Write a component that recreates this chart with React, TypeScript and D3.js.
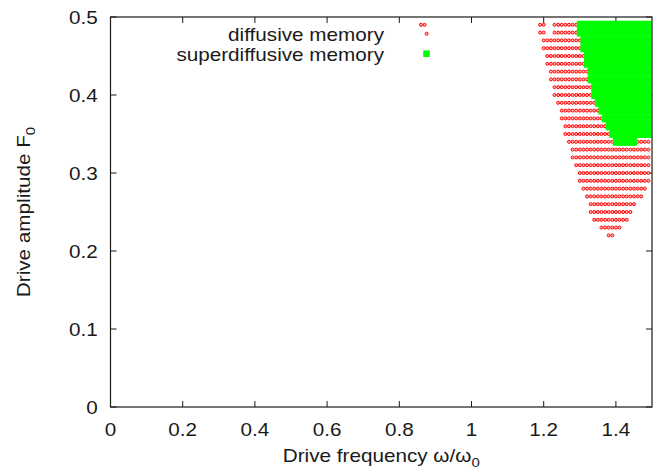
import React from 'react';
import * as d3 from 'd3';

// ---- data ----
const xTicks = [0, 0.2, 0.4, 0.6, 0.8, 1, 1.2, 1.4];
const xTickLabels = ['0', '0.2', '0.4', '0.6', '0.8', '1', '1.2', '1.4'];
const yTicks = [0, 0.1, 0.2, 0.3, 0.4, 0.5];
const yTickLabels = ['0', '0.1', '0.2', '0.3', '0.4', '0.5'];
const legendLabels = ['diffusive memory', 'superdiffusive memory'];

// grid scan rows: [F0, omega start, omega end] (step 0.01 in omega)
const diffusiveRows: [number, number, number][] = [
  [0.49, 0.86, 0.87],
  [0.49, 1.19, 1.2],
  [0.49, 1.23, 1.49],
  [0.48, 1.19, 1.2],
  [0.48, 1.23, 1.49],
  [0.47, 1.2, 1.49],
  [0.46, 1.2, 1.49],
  [0.45, 1.21, 1.49],
  [0.44, 1.21, 1.49],
  [0.43, 1.22, 1.49],
  [0.42, 1.22, 1.49],
  [0.41, 1.23, 1.49],
  [0.4, 1.23, 1.49],
  [0.39, 1.24, 1.49],
  [0.38, 1.25, 1.49],
  [0.37, 1.25, 1.49],
  [0.36, 1.26, 1.49],
  [0.35, 1.26, 1.49],
  [0.34, 1.27, 1.49],
  [0.33, 1.28, 1.49],
  [0.32, 1.28, 1.49],
  [0.31, 1.29, 1.49],
  [0.3, 1.3, 1.49],
  [0.29, 1.3, 1.49],
  [0.28, 1.31, 1.48],
  [0.27, 1.32, 1.47],
  [0.26, 1.33, 1.45],
  [0.25, 1.33, 1.44],
  [0.24, 1.34, 1.43],
  [0.23, 1.36, 1.41],
  [0.22, 1.38, 1.39],
];

const superdiffusiveRows: [number, number, number][] = [
  [0.49, 1.3, 1.49],
  [0.48, 1.3, 1.49],
  [0.47, 1.31, 1.49],
  [0.46, 1.31, 1.49],
  [0.45, 1.32, 1.49],
  [0.44, 1.32, 1.49],
  [0.43, 1.33, 1.49],
  [0.42, 1.33, 1.49],
  [0.41, 1.34, 1.49],
  [0.4, 1.34, 1.49],
  [0.39, 1.35, 1.49],
  [0.38, 1.36, 1.49],
  [0.37, 1.37, 1.49],
  [0.36, 1.38, 1.49],
  [0.35, 1.39, 1.49],
  [0.34, 1.4, 1.45],
];

// ---- layout ----
const W = 667;
const H = 472;
const LEFT = 110.5;
const RIGHT = 652;
const TOP = 17;
const BOTTOM = 407;
const FONT = '"Liberation Sans", Arial, Helvetica, sans-serif';
const INK = '#1a1a1a';
const SX = 1.15;

function cells(rows: [number, number, number][]) {
  const pts: { w: number; f: number; k: string }[] = [];
  rows.forEach(([f, a, b], ri) => {
    for (let i = Math.round(a * 100); i <= Math.round(b * 100); i++) {
      pts.push({ w: i / 100, f, k: `${ri}-${i}` });
    }
  });
  return pts;
}

function T({ x, y, anchor, size = 18, rot = false, children }: any) {
  const tr = rot
    ? `translate(${x},${y}) rotate(-90) scale(${SX},1)`
    : `translate(${x},${y}) scale(${SX},1)`;
  return (
    <text transform={tr} textAnchor={anchor} fontSize={size} fontFamily={FONT} fill={INK}>
      {children}
    </text>
  );
}

export default function App() {
  const x = d3.scaleLinear().domain([0, 1.5]).range([LEFT, RIGHT]);
  const y = d3.scaleLinear().domain([0, 0.5]).range([BOTTOM, TOP]);
  const red = cells(diffusiveRows);
  const green = cells(superdiffusiveRows);
  const tl = 6;

  return (
    <svg
      width={W}
      height={H}
      viewBox={`0 0 ${W} ${H}`}
      style={{ position: 'absolute', left: 0, top: 0, background: '#fff' }}
    >
      <rect x={0} y={0} width={W} height={H} fill="#fff" />
      {/* ticks */}
      <g stroke={INK} strokeWidth={1}>
        {xTicks.map((t) => (
          <g key={'xt' + t}>
            <line x1={x(t)} x2={x(t)} y1={BOTTOM} y2={BOTTOM - tl} />
            <line x1={x(t)} x2={x(t)} y1={TOP} y2={TOP + tl} />
          </g>
        ))}
        {yTicks.map((t) => (
          <g key={'yt' + t}>
            <line x1={LEFT} x2={LEFT + tl} y1={y(t)} y2={y(t)} />
            <line x1={RIGHT} x2={RIGHT - tl} y1={y(t)} y2={y(t)} />
          </g>
        ))}
      </g>
      {/* diffusive points */}
      <g>
        {red.map((p) => (
          <circle
            key={'r' + p.k}
            cx={x(p.w)}
            cy={y(p.f)}
            r={1.5}
            fill="#ffb8b8"
            stroke="#ff0000"
            strokeWidth={1}
          />
        ))}
      </g>
      {/* superdiffusive points */}
      <g>
        {green.map((p) => (
          <rect
            key={'g' + p.k}
            x={x(p.w) - 3}
            y={y(p.f) - 4}
            width={6}
            height={8}
            fill="#00ff00"
          />
        ))}
      </g>
      {/* frame */}
      <rect
        x={LEFT}
        y={TOP}
        width={RIGHT - LEFT}
        height={BOTTOM - TOP}
        fill="none"
        stroke={INK}
        strokeWidth={1.2}
      />
      {/* tick labels */}
      {xTicks.map((t, i) => (
        <T key={'xl' + t} x={x(t)} y={436} anchor="middle">
          {xTickLabels[i]}
        </T>
      ))}
      {yTicks.map((t, i) => (
        <T key={'yl' + t} x={97.7} y={y(t) + 6.5} anchor="end">
          {yTickLabels[i]}
        </T>
      ))}
      {/* axis titles */}
      <T x={(LEFT + RIGHT) / 2} y={462} anchor="middle">
        Drive frequency ω/ω
        <tspan fontSize={13} dy={5}>0</tspan>
      </T>
      <T x={29.5} y={(TOP + BOTTOM) / 2} anchor="middle" rot>
        Drive amplitude F
        <tspan fontSize={13} dy={5}>0</tspan>
      </T>
      {/* legend */}
      <T x={384} y={41} anchor="end">
        {legendLabels[0]}
      </T>
      <T x={384} y={60.5} anchor="end">
        {legendLabels[1]}
      </T>
      <circle cx={426.7} cy={33.7} r={1.5} fill="#ffb8b8" stroke="#ff0000" strokeWidth={1} />
      <rect x={426.5 - 3.3} y={53.7 - 3.3} width={6.6} height={6.6} fill="#00ff00" />
    </svg>
  );
}
